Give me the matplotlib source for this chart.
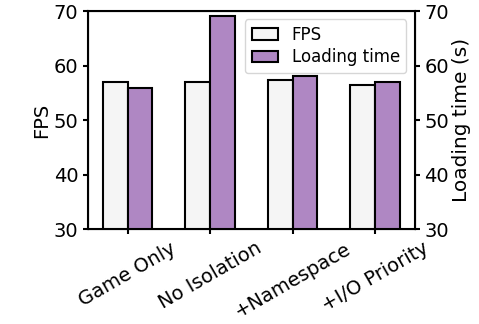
import numpy as np
import matplotlib.pyplot as plt

## Data
configs = ["Game Only", "No Isolation", "+Namespace", "+I/O Priority"]
fps = [57.0, 57.0, 57.3, 56.5]
loading_time = [55.9, 69.0, 58.0, 57.0]

## Plot
fig, ax = plt.subplots(figsize=(4.79, 3.24), dpi=100)
ax2 = ax.twinx()

x = np.arange(len(configs))
w = 0.3
b1 = ax.bar(x - w / 2, fps, w, color="#f5f5f5", edgecolor="black", linewidth=1.5, label="FPS")
b2 = ax2.bar(x + w / 2, loading_time, w, color="#af87c3", edgecolor="black", linewidth=1.5, label="Loading time")

ax.set_ylim(30, 70)
ax2.set_ylim(30, 70)
ax.set_yticks([30, 40, 50, 60, 70])
ax2.set_yticks([30, 40, 50, 60, 70])
ax.set_xticks(x)
ax.set_xticklabels(configs, rotation=30, ha="center")

ax.tick_params(labelsize=14, width=1.5, length=3.5)
ax2.tick_params(labelsize=14, width=1.5, length=3.5)
ax.set_ylabel("FPS", fontsize=14, labelpad=2)
ax2.set_ylabel("Loading time (s)", fontsize=14.5, labelpad=2)
for sp in ax2.spines.values():
    sp.set_linewidth(1.5)

ax.legend([b1, b2], ["FPS", "Loading time"], loc="upper right", fontsize=12,
          handlelength=1.6, borderpad=0.4, labelspacing=0.25, handletextpad=0.8)

fig.subplots_adjust(left=0.184, right=0.866, top=0.966, bottom=0.293)
fig.savefig("out.png")
